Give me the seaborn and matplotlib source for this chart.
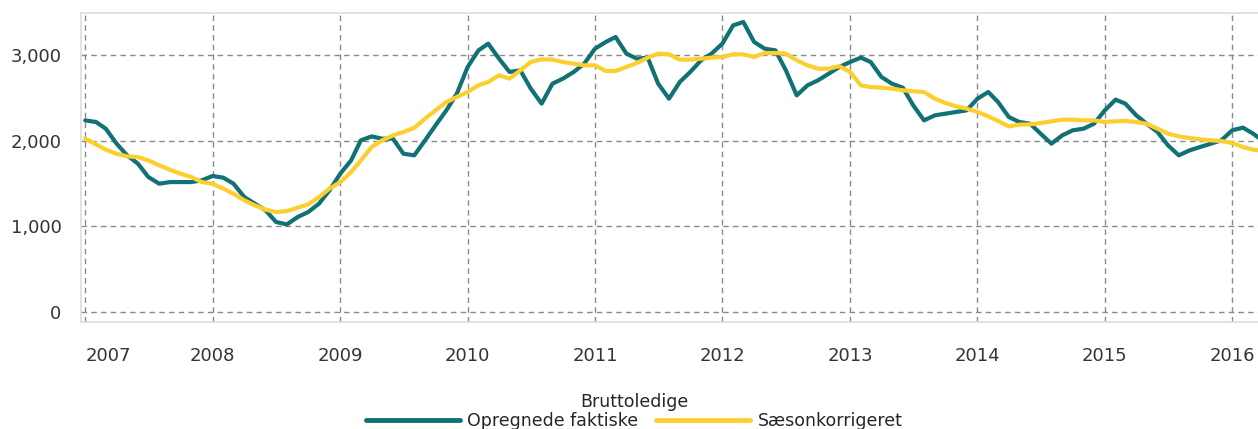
import matplotlib
matplotlib.use("Agg")
import matplotlib.pyplot as plt
import seaborn as sns
import pandas as pd

# monthly values, Jan 2007 - Apr 2016
faktiske = [
    2237, 2218, 2140, 1965, 1829, 1732, 1576, 1498, 1517, 1517, 1517, 1537,  # 2007
    1588, 1568, 1498, 1342, 1265, 1187, 1051, 1023, 1109, 1167, 1265, 1420,  # 2008
    1615, 1770, 2004, 2050, 2023, 2023, 1848, 1829, 2004, 2179, 2354, 2549,  # 2009
    2860, 3054, 3132, 2957, 2802, 2821, 2607, 2432, 2665, 2724, 2802, 2899,  # 2010
    3074, 3152, 3210, 3016, 2957, 2969, 2665, 2490, 2685, 2802, 2938, 3016,  # 2011
    3132, 3346, 3385, 3152, 3074, 3054, 2821, 2529, 2646, 2704, 2782, 2860,  # 2012
    2918, 2969, 2918, 2743, 2665, 2619, 2412, 2237, 2296, 2315, 2335, 2354,  # 2013
    2490, 2568, 2451, 2276, 2218, 2198, 2082, 1965, 2062, 2121, 2140, 2198,  # 2014
    2354, 2479, 2432, 2296, 2198, 2101, 1946, 1829, 1887, 1926, 1965, 2004,  # 2015
    2121, 2152, 2082, 1990,                                                  # 2016
]
saeson = [
    2023, 1957, 1895, 1848, 1817, 1809, 1770, 1712, 1661, 1615, 1576, 1517,
    1498, 1440, 1381, 1304, 1245, 1195, 1167, 1179, 1218, 1257, 1342, 1440,
    1517, 1634, 1770, 1926, 2004, 2062, 2101, 2150, 2257, 2354, 2451, 2510,
    2568, 2646, 2685, 2763, 2724, 2821, 2918, 2949, 2946, 2918, 2899, 2879,
    2879, 2813, 2813, 2860, 2907, 2969, 3016, 3008, 2946, 2946, 2957, 2969,
    2977, 3008, 3008, 2977, 3023, 3023, 3016, 2938, 2879, 2840, 2840, 2870,
    2802, 2646, 2626, 2619, 2607, 2588, 2576, 2568, 2490, 2440, 2401, 2374,
    2335, 2284, 2230, 2167, 2187, 2191, 2206, 2226, 2245, 2245, 2237, 2237,
    2218, 2226, 2230, 2218, 2198, 2140, 2082, 2050, 2031, 2016, 2004, 1996,
    1973, 1926, 1895, 1880,
]
series_names = ["Opregnede faktiske", "Sæsonkorrigeret"]
legend_title = "Bruttoledige"
year_ticks = list(range(2007, 2017))

months = pd.date_range("2007-01-01", periods=len(faktiske), freq="MS")
df = pd.concat([
    pd.DataFrame({"dato": months, "antal": faktiske, "serie": series_names[0]}),
    pd.DataFrame({"dato": months, "antal": saeson, "serie": series_names[1]}),
])

sns.set_theme(style="white")
plt.rcParams["font.family"] = ["DejaVu Sans"]

fig = plt.figure(figsize=(12.58, 4.29), dpi=100)
ax = fig.add_axes([0.0644, 0.2494, 0.9356, 0.7203])

sns.lineplot(data=df, x="dato", y="antal", hue="serie", ax=ax,
             palette=["#117174", "#fccf2f"], linewidth=3.0, legend=True)

ax.set_xlim(pd.Timestamp("2006-12-20"), pd.Timestamp("2016-03-15"))
ax.set_ylim(-116, 3490)
ax.set_yticks([0, 1000, 2000, 3000])
ax.set_yticklabels(["0", "1,000", "2,000", "3,000"])
ax.set_xticks([pd.Timestamp(f"{y}-01-01") for y in year_ticks])
ax.set_xticklabels([str(y) for y in year_ticks])
ax.get_xticklabels()[0].set_horizontalalignment("left")
ax.set_xlabel("")
ax.set_ylabel("")

ax.grid(True, linestyle=(0, (4, 3)), color="#8a8a8a", linewidth=1.0)
ax.tick_params(axis="both", colors="#8a8a8a", labelcolor="#333333",
               labelsize=13, length=10, width=1, direction="out", pad=4)
ax.tick_params(axis="x", pad=8)
for side in ["left", "top", "bottom"]:
    ax.spines[side].set_color("#dddddd")
    ax.spines[side].set_linewidth(1.2)
ax.spines["right"].set_visible(False)

handles, labels = ax.get_legend_handles_labels()
ax.get_legend().remove()
leg = fig.legend(handles, labels, loc="upper center", bbox_to_anchor=(0.504, 0.105),
                 ncol=2, frameon=False, title=legend_title, fontsize=12.5,
                 title_fontsize=12.5, handlelength=5.4, handletextpad=0.45,
                 columnspacing=1.0, borderpad=0, labelspacing=0.1)
for h in leg.get_lines():
    h.set_linewidth(3.5)

fig.savefig("out.png", dpi=100, facecolor="white")
